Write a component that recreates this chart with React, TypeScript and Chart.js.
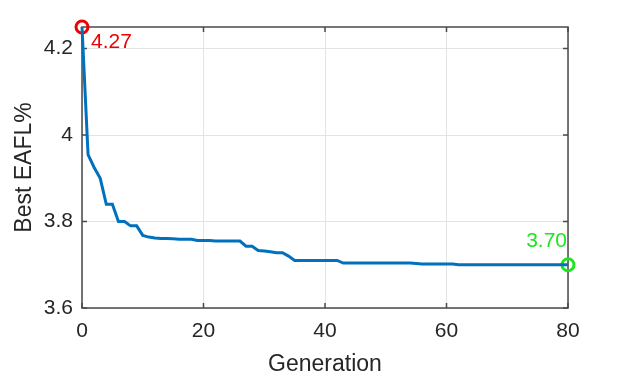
import React, { useEffect, useRef } from 'react';
import { Chart, registerables } from 'chart.js';

Chart.register(...registerables);

const bestEafl: number[] = [
  4.25, 3.955, 3.925, 3.9, 3.84, 3.84, 3.8, 3.8, 3.79, 3.79,
  3.768, 3.764, 3.762, 3.761, 3.761, 3.76, 3.759, 3.759, 3.759, 3.756,
  3.756, 3.756, 3.755, 3.755, 3.755, 3.755, 3.755, 3.743, 3.743, 3.733,
  3.732, 3.73, 3.728, 3.728, 3.72, 3.71, 3.71, 3.71, 3.71, 3.71,
  3.71, 3.71, 3.71, 3.704, 3.704, 3.704, 3.704, 3.704, 3.704, 3.704,
  3.704, 3.704, 3.704, 3.704, 3.704, 3.703, 3.702, 3.702, 3.702, 3.702,
  3.702, 3.702, 3.7, 3.7, 3.7, 3.7, 3.7, 3.7, 3.7, 3.7,
  3.7, 3.7, 3.7, 3.7, 3.7, 3.7, 3.7, 3.7, 3.7, 3.7,
  3.7,
];
const generations: number[] = bestEafl.map((_, i) => i);

const xRange = [0, 80];
const xStep = 20;
const yRange = [3.6, 4.25];
const yStep = 0.2;

const startLabel = '4.27';
const endLabel = '3.70';
const xTitle = 'Generation';
const yTitle = 'Best EAFL%';

const FONT = "'Liberation Sans', Arial, Helvetica, sans-serif";
const TEXT = '#262626';

const boxPlugin = {
  id: 'matlabBox',
  beforeDatasetsDraw(chart: any) {
    const { ctx, chartArea: a, scales } = chart;
    const xs = scales.x;
    const ys = scales.y;
    ctx.save();
    ctx.strokeStyle = '#4a4a4a';
    ctx.lineWidth = 1.5;
    ctx.strokeRect(a.left, a.top, a.right - a.left, a.bottom - a.top);
    const tl = 5;
    ctx.beginPath();
    xs.ticks.forEach((t: any) => {
      const px = xs.getPixelForValue(t.value);
      ctx.moveTo(px, a.bottom);
      ctx.lineTo(px, a.bottom - tl);
      ctx.moveTo(px, a.top);
      ctx.lineTo(px, a.top + tl);
    });
    ys.ticks.forEach((t: any) => {
      const py = ys.getPixelForValue(t.value);
      ctx.moveTo(a.left, py);
      ctx.lineTo(a.left + tl, py);
      ctx.moveTo(a.right, py);
      ctx.lineTo(a.right - tl, py);
    });
    ctx.stroke();
    ctx.restore();
  },
  afterDraw(chart: any) {
    const { ctx } = chart;
    const p0 = chart.getDatasetMeta(1).data[0];
    const p1 = chart.getDatasetMeta(2).data[0];
    ctx.save();
    ctx.font = `21px ${FONT}`;
    ctx.textBaseline = 'middle';
    ctx.fillStyle = '#ee0000';
    ctx.textAlign = 'left';
    ctx.fillText(startLabel, p0.x + 9, p0.y + 15);
    ctx.fillStyle = '#1ee61e';
    ctx.textAlign = 'right';
    ctx.fillText(endLabel, p1.x - 1, p1.y - 24);
    ctx.restore();
  },
};

export default function App() {
  const ref = useRef<HTMLCanvasElement | null>(null);

  useEffect(() => {
    document.body.style.margin = '0';
    const canvas = ref.current;
    if (!canvas) return;
    const last = bestEafl.length - 1;
    const chart = new Chart(canvas, {
      type: 'line',
      data: {
        datasets: [
          {
            data: generations.map((g, i) => ({ x: g, y: bestEafl[i] })),
            borderColor: '#0072BD',
            borderWidth: 3,
            pointRadius: 0,
            tension: 0,
            clip: 4,
          },
          {
            data: [{ x: generations[0], y: bestEafl[0] }],
            showLine: false,
            pointRadius: 6,
            pointBorderWidth: 3,
            pointBorderColor: '#ee0000',
            pointBackgroundColor: 'rgba(0,0,0,0)',
            clip: false,
          },
          {
            data: [{ x: generations[last], y: bestEafl[last] }],
            showLine: false,
            pointRadius: 6,
            pointBorderWidth: 3,
            pointBorderColor: '#1ee61e',
            pointBackgroundColor: 'rgba(0,0,0,0)',
            clip: false,
          },
        ],
      } as any,
      options: {
        animation: false,
        responsive: false,
        maintainAspectRatio: false,
        layout: { padding: { top: 27, right: 61, left: 0, bottom: 0 } },
        plugins: { legend: { display: false }, tooltip: { enabled: false } },
        scales: {
          x: {
            type: 'linear',
            min: xRange[0],
            max: xRange[1],
            afterFit: (s: any) => { s.height = 70; },
            grid: { color: '#e3e3e3', drawTicks: false, lineWidth: 1 },
            border: { display: false },
            ticks: {
              stepSize: xStep,
              padding: 11,
              color: TEXT,
              font: { family: FONT, size: 21 },
              maxRotation: 0,
            },
            title: {
              display: true,
              text: xTitle,
              color: TEXT,
              font: { family: FONT, size: 23, lineHeight: 1.15 },
              padding: { top: 0, bottom: 0 },
            },
          },
          y: {
            type: 'linear',
            min: yRange[0],
            max: yRange[1],
            afterFit: (s: any) => { s.width = 82; },
            grid: { color: '#e3e3e3', drawTicks: false, lineWidth: 1 },
            border: { display: false },
            ticks: {
              stepSize: yStep,
              includeBounds: false,
              padding: 9,
              color: TEXT,
              font: { family: FONT, size: 21 },
              callback: (v: any) => String(Math.round(Number(v) * 10) / 10),
            },
            title: {
              display: true,
              text: yTitle,
              color: TEXT,
              font: { family: FONT, size: 23 },
              padding: { top: 11, bottom: 0 },
            },
          },
        },
      } as any,
      plugins: [boxPlugin],
    });
    return () => chart.destroy();
  }, []);

  return (
    <div style={{ position: 'fixed', left: 0, top: 0, width: 629, height: 378, background: '#fff' }}>
      <canvas ref={ref} width={629} height={378} style={{ width: 629, height: 378 }} />
    </div>
  );
}
